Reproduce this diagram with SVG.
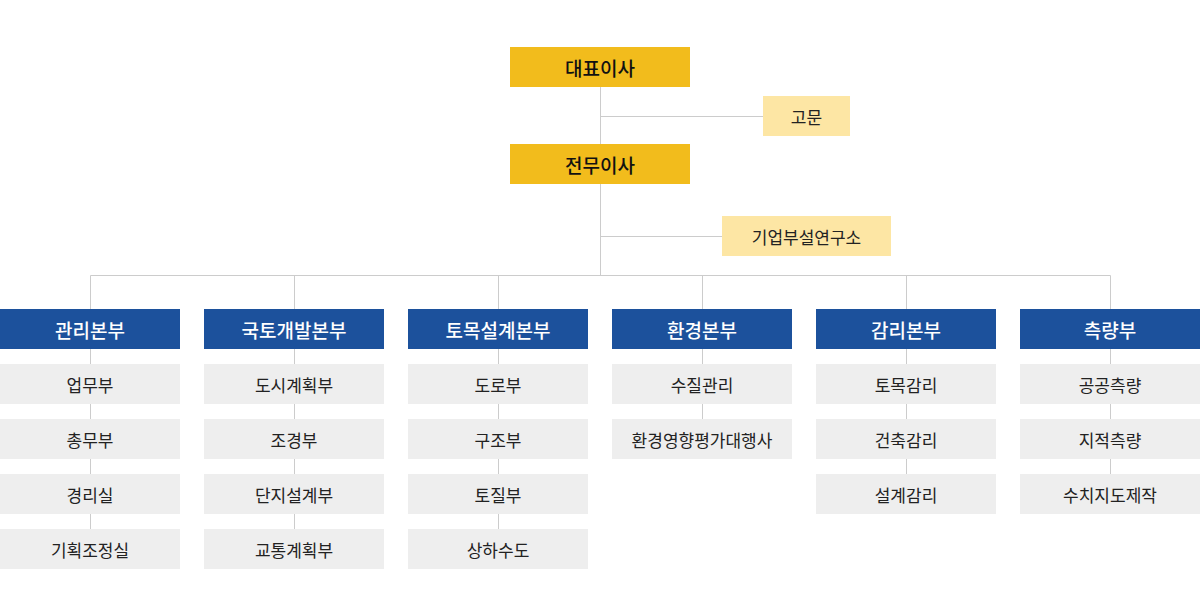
<svg xmlns="http://www.w3.org/2000/svg" width="1200" height="615" viewBox="0 0 1200 615">
<style>
text{font-family:"Noto Sans CJK KR","Noto Sans",sans-serif;text-anchor:middle;dominant-baseline:central}
.exec rect{fill:#f2bc1c}
.exec text{font-size:19px;font-weight:500;fill:#111}
.adv rect{fill:#fde6a4}
.adv text{font-size:17px;fill:#222}
.hd rect{fill:#1c519c}
.hd text{font-size:19px;font-weight:500;fill:#fff}
.sub rect{fill:#eeeeee}
.sub text{font-size:17px;fill:#222}
.ln{stroke:#cccccc;stroke-width:1;fill:none}
</style>
<rect width="1200" height="615" fill="#fff"/>
<g id="connectors" class="ln">
<path d="M600.5 87V275.5M600 116.5H763M600 236.5H722M90.5 309V275.5H1110.5V309M294.5 275.5V309M498.5 275.5V309M702.5 275.5V309M906.5 275.5V309"/>
<path d="M90.5 349V529M294.5 349V529M498.5 349V529M702.5 349V419M906.5 349V474M1110.5 349V474"/>
</g>
<g id="n-ceo" class="exec"><rect x="510" y="47" width="180" height="40"/><text x="600" y="67">대표이사</text></g>
<g id="n-advisor" class="adv"><rect x="763" y="96" width="87" height="40"/><text x="806.5" y="116">고문</text></g>
<g id="n-md" class="exec"><rect x="510" y="144" width="180" height="40"/><text x="600" y="164">전무이사</text></g>
<g id="n-lab" class="adv"><rect x="722" y="216" width="169" height="40"/><text x="806.5" y="236">기업부설연구소</text></g>

<g id="h1" class="hd"><rect x="0" y="309" width="180" height="40"/><text x="90" y="329">관리본부</text></g>
<g id="h2" class="hd"><rect x="204" y="309" width="180" height="40"/><text x="294" y="329">국토개발본부</text></g>
<g id="h3" class="hd"><rect x="408" y="309" width="180" height="40"/><text x="498" y="329">토목설계본부</text></g>
<g id="h4" class="hd"><rect x="612" y="309" width="180" height="40"/><text x="702" y="329">환경본부</text></g>
<g id="h5" class="hd"><rect x="816" y="309" width="180" height="40"/><text x="906" y="329">감리본부</text></g>
<g id="h6" class="hd"><rect x="1020" y="309" width="180" height="40"/><text x="1110" y="329">측량부</text></g>

<g id="s1a" class="sub"><rect x="0" y="364" width="180" height="40"/><text x="90" y="384">업무부</text></g>
<g id="s1b" class="sub"><rect x="0" y="419" width="180" height="40"/><text x="90" y="439">총무부</text></g>
<g id="s1c" class="sub"><rect x="0" y="474" width="180" height="40"/><text x="90" y="494">경리실</text></g>
<g id="s1d" class="sub"><rect x="0" y="529" width="180" height="40"/><text x="90" y="549">기획조정실</text></g>

<g id="s2a" class="sub"><rect x="204" y="364" width="180" height="40"/><text x="294" y="384">도시계획부</text></g>
<g id="s2b" class="sub"><rect x="204" y="419" width="180" height="40"/><text x="294" y="439">조경부</text></g>
<g id="s2c" class="sub"><rect x="204" y="474" width="180" height="40"/><text x="294" y="494">단지설계부</text></g>
<g id="s2d" class="sub"><rect x="204" y="529" width="180" height="40"/><text x="294" y="549">교통계획부</text></g>

<g id="s3a" class="sub"><rect x="408" y="364" width="180" height="40"/><text x="498" y="384">도로부</text></g>
<g id="s3b" class="sub"><rect x="408" y="419" width="180" height="40"/><text x="498" y="439">구조부</text></g>
<g id="s3c" class="sub"><rect x="408" y="474" width="180" height="40"/><text x="498" y="494">토질부</text></g>
<g id="s3d" class="sub"><rect x="408" y="529" width="180" height="40"/><text x="498" y="549">상하수도</text></g>

<g id="s4a" class="sub"><rect x="612" y="364" width="180" height="40"/><text x="702" y="384">수질관리</text></g>
<g id="s4b" class="sub"><rect x="612" y="419" width="180" height="40"/><text x="702" y="439">환경영향평가대행사</text></g>

<g id="s5a" class="sub"><rect x="816" y="364" width="180" height="40"/><text x="906" y="384">토목감리</text></g>
<g id="s5b" class="sub"><rect x="816" y="419" width="180" height="40"/><text x="906" y="439">건축감리</text></g>
<g id="s5c" class="sub"><rect x="816" y="474" width="180" height="40"/><text x="906" y="494">설계감리</text></g>

<g id="s6a" class="sub"><rect x="1020" y="364" width="180" height="40"/><text x="1110" y="384">공공측량</text></g>
<g id="s6b" class="sub"><rect x="1020" y="419" width="180" height="40"/><text x="1110" y="439">지적측량</text></g>
<g id="s6c" class="sub"><rect x="1020" y="474" width="180" height="40"/><text x="1110" y="494">수치지도제작</text></g>
</svg>
